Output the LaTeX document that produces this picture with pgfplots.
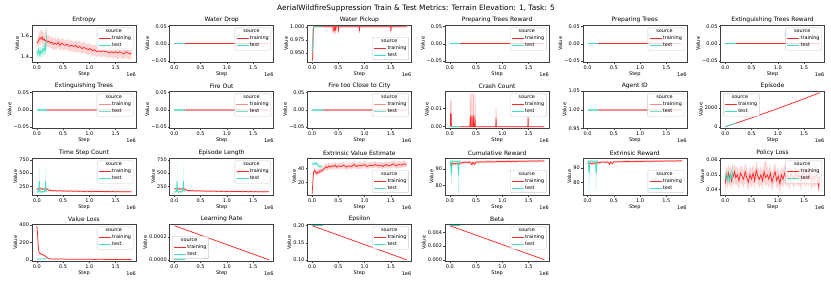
\documentclass[border=0pt]{standalone}
\usepackage{fontspec}
\setmainfont{DejaVu Sans}
\usepackage{pgfplots}
\usepackage{pgfplotstable}
\pgfplotsset{compat=1.18}
\usepgfplotslibrary{fillbetween}

\definecolor{trn}{RGB}{255,40,40}
\definecolor{tst}{RGB}{64,224,192}
\definecolor{trnP}{RGB}{245,140,140}
\definecolor{tstP}{RGB}{110,230,205}
\newcommand{\tickf}{\fontsize{5}{5.5}\selectfont}
\newcommand{\ttlf}{\fontsize{6}{6.5}\selectfont}
\newcommand{\legf}{\fontsize{4.9}{5.4}\selectfont}

\pgfplotsset{
 sub/.style={
  scale only axis, width=104pt, height=37.5pt, anchor=south west,
  xmin=-0.09, xmax=1.89,
  xtick={0,0.5,1,1.5}, xticklabels={0.0,0.5,1.0,1.5},
  scaled x ticks=false, scaled y ticks=false,
  xlabel={Step}, ylabel={Value},
  tick align=outside, xtick pos=bottom, ytick pos=left,
  major tick length=1.8pt,
  tick style={black!75, line width=0.4pt},
  axis line style={black!75, line width=0.5pt},
  ticklabel style={font=\tickf, inner sep=1pt},
  label style={font=\tickf},
  xlabel style={inner sep=0pt, yshift=-1pt},
  ylabel style={inner sep=0pt, yshift=1pt},
  every axis title/.style={at={(0.5,1)}, anchor=south, font=\ttlf, inner sep=0pt, yshift=2pt},
  /pgf/number format/assume math mode=true,
  legend style={font=\legf, draw=black!20, rounded corners=1pt, fill=white,
    fill opacity=0.8, text opacity=1, draw opacity=1, inner sep=1.3pt, row sep=0.3pt,
    nodes={inner sep=0.8pt}},
  legend cell align=left,
  legend image code/.code={\draw[##1] (0pt,0pt) -- (12pt,0pt);},
  extra description/.code={\node[anchor=east, inner sep=0pt, font=\tickf] at (1,0) [yshift=-12pt] {1e6};},
 },
 zero/.style={ymin=-0.055, ymax=0.055, ytick={-0.05,0,0.05}, yticklabels={−0.05,0.00,0.05}},
 legUR/.style={legend style={at={(0.975,0.93)}, anchor=north east}},
 legLR/.style={legend style={at={(0.975,0.07)}, anchor=south east}},
 legUL/.style={legend style={at={(0.025,0.93)}, anchor=north west}},
 legLL/.style={legend style={at={(0.025,0.07)}, anchor=south west}},
 trline/.style={color=trn, draw=trn, line width=0.75pt},
 teline/.style={color=tst, draw=tst, line width=0.75pt},
 trlineZ/.style={color=trn, draw=trn, line width=1.2pt},
 telineZ/.style={color=tst, draw=tst, line width=1.2pt},
 trlineP/.style={color=trnP, draw=trnP, line width=1.9pt},
 telineP/.style={color=tstP, draw=tstP, line width=1.9pt},
 trfill/.style={fill=trn, fill opacity=0.2, draw=none},
 tefill/.style={fill=tst, fill opacity=0.3, draw=none},
}

\newcommand{\leghead}{%
 \addlegendimage{empty legend}\addlegendentry{\hspace*{-6.5pt}source}
 \addlegendimage{color=trn, draw=trn, line width=0.9pt}\addlegendentry{training}
 \addlegendimage{color=tst, draw=tst, line width=0.9pt}\addlegendentry{test}}
\newcommand{\legheadP}{%
 \addlegendimage{empty legend}\addlegendentry{\hspace*{-6.5pt}source}
 \addlegendimage{color=trnP, draw=trnP, line width=1.2pt}\addlegendentry{training}
 \addlegendimage{color=tstP, draw=tstP, line width=1.2pt}\addlegendentry{test}}
\newcommand{\band}[3]{%
 \addplot[draw=none, name path=U#2, forget plot] table[x=x,y=hi]{#1};
 \addplot[draw=none, name path=L#2, forget plot] table[x=x,y=lo]{#1};
 \addplot[#3, forget plot] fill between[of=U#2 and L#2];}

% ---------------- data ----------------
\pgfplotstableread{
x m lo hi
0.00 1.53 1.50 1.56
0.02 1.54 1.50 1.58
0.04 1.56 1.51 1.62
0.06 1.58 1.53 1.64
0.08 1.57 1.50 1.66
0.10 1.59 1.54 1.65
0.12 1.56 1.50 1.63
0.14 1.57 1.52 1.61
0.16 1.55 1.49 1.64
0.18 1.56 1.50 1.68
0.20 1.54 1.49 1.60
0.23 1.55 1.50 1.61
0.26 1.53 1.48 1.58
0.29 1.54 1.49 1.60
0.32 1.52 1.46 1.57
0.35 1.53 1.48 1.59
0.38 1.52 1.47 1.56
0.41 1.54 1.49 1.59
0.44 1.51 1.46 1.56
0.47 1.53 1.48 1.57
0.50 1.52 1.46 1.58
0.54 1.51 1.47 1.55
0.58 1.52 1.47 1.57
0.62 1.50 1.45 1.55
0.66 1.51 1.46 1.56
0.70 1.50 1.45 1.54
0.74 1.51 1.45 1.56
0.78 1.49 1.44 1.54
0.82 1.50 1.45 1.55
0.86 1.48 1.43 1.53
0.90 1.49 1.44 1.55
0.94 1.48 1.43 1.52
0.98 1.47 1.42 1.53
1.02 1.48 1.43 1.52
1.06 1.46 1.41 1.51
1.10 1.47 1.42 1.52
1.14 1.45 1.40 1.50
1.18 1.46 1.41 1.51
1.22 1.45 1.40 1.50
1.26 1.46 1.41 1.50
1.30 1.45 1.40 1.50
1.34 1.45 1.40 1.49
1.38 1.44 1.39 1.49
1.42 1.45 1.40 1.50
1.46 1.44 1.39 1.48
1.50 1.45 1.40 1.49
1.54 1.44 1.38 1.49
1.58 1.45 1.40 1.50
1.62 1.44 1.39 1.48
1.66 1.43 1.38 1.48
1.70 1.45 1.40 1.49
1.74 1.44 1.38 1.48
1.78 1.43 1.38 1.47
1.80 1.44 1.39 1.48
}\TEnt
\pgfplotstableread{
x m lo hi
0.00 1.45 1.41 1.49
0.02 1.43 1.39 1.47
0.04 1.47 1.42 1.52
0.06 1.42 1.38 1.46
0.08 1.46 1.41 1.51
0.10 1.44 1.40 1.48
0.12 1.48 1.43 1.53
0.14 1.46 1.41 1.52
0.16 1.50 1.44 1.56
0.17 1.47 1.42 1.53
0.18 1.57 1.50 1.68
0.19 1.60 1.53 1.68
}\TEntT
\pgfplotstableread{
x m lo
0.000 0.936 0.932
0.010 0.940 0.935
0.020 0.990 0.975
0.030 1.000 1.000
0.395 1.000 1.000
0.400 0.991 0.987
0.405 1.000 1.000
0.425 1.000 1.000
0.430 0.991 0.987
0.435 1.000 1.000
0.445 1.000 1.000
0.450 0.993 0.988
0.455 1.000 1.000
0.495 1.000 1.000
0.500 0.991 0.987
0.505 1.000 1.000
0.895 1.000 1.000
0.900 0.992 0.988
0.905 1.000 1.000
1.495 1.000 1.000
1.500 0.992 0.988
1.505 1.000 1.000
1.800 1.000 1.000
}\TWP
\pgfplotstableread{
x m hi
0.000 0 0
0.010 0 0
0.015 0.007 0.014
0.025 0.007 0.014
0.030 0 0
0.385 0 0
0.390 0.006 0.0183
0.395 0 0
0.415 0 0
0.420 0.006 0.0183
0.425 0 0
0.445 0 0
0.450 0.006 0.018
0.455 0 0
0.475 0 0
0.480 0.005 0.0175
0.485 0 0
0.875 0 0
0.880 0.0046 0.0105
0.885 0 0
1.485 0 0
1.490 0.005 0.006
1.495 0 0
1.800 0 0
}\TCrash
\pgfplotstableread{
x m lo hi
0.00 200 180 220
0.02 205 180 230
0.04 195 175 215
0.06 210 185 235
0.08 200 180 225
0.10 205 180 230
0.12 195 170 220
0.14 200 178 225
0.16 210 185 240
0.18 195 175 215
0.20 200 180 225
0.22 185 165 205
0.25 170 155 185
0.28 175 158 190
0.31 165 150 180
0.35 170 155 185
0.40 162 148 178
0.45 168 152 182
0.50 160 146 175
0.55 165 150 180
0.60 158 145 172
0.65 163 148 178
0.70 157 143 170
0.75 162 147 176
0.80 155 142 168
0.85 160 146 174
0.90 154 141 168
0.95 158 144 172
1.00 153 140 166
1.05 157 143 171
1.10 152 139 165
1.15 156 142 170
1.20 151 138 164
1.25 155 141 168
1.30 150 137 163
1.35 154 140 167
1.40 149 136 162
1.45 153 139 166
1.50 148 135 161
1.55 152 138 165
1.60 147 134 160
1.65 151 137 164
1.70 146 133 159
1.75 150 136 163
1.80 147 134 160
}\TTS
\pgfplotstableread{
x m lo hi
0.00 150 130 170
0.02 145 125 165
0.04 160 130 200
0.05 350 150 750
0.06 160 130 200
0.08 140 120 160
0.10 155 130 180
0.12 145 125 165
0.14 150 128 172
0.16 170 140 210
0.17 350 150 730
0.18 165 135 200
0.20 150 128 172
}\TTST
\pgfplotstableread{
x m lo hi
0.00 3 1 5
0.01 15 10 20
0.02 28 24 32
0.03 35 31 39
0.05 37 33 41
0.07 34 30 38
0.09 33 29 37
0.11 35 31 39
0.13 34 30 39
0.15 37 33 41
0.17 36 32 40
0.20 38 34 42
0.23 40 36 45
0.26 43 38 48
0.29 41 37 46
0.32 44 39 49
0.35 42 38 46
0.38 44 40 49
0.41 43 38 47
0.44 45 40 50
0.47 42 38 46
0.50 44 40 49
0.55 43 39 47
0.60 45 40 50
0.65 42 38 46
0.70 44 40 49
0.75 43 39 48
0.80 46 41 51
0.85 43 39 47
0.90 45 40 50
0.95 44 40 48
1.00 46 41 51
1.05 43 39 48
1.10 45 41 50
1.15 44 40 49
1.20 46 41 51
1.25 44 40 48
1.30 45 41 50
1.35 43 39 48
1.40 46 41 51
1.45 44 40 49
1.50 45 41 50
1.55 47 42 52
1.60 44 40 49
1.65 46 41 51
1.70 45 41 50
1.75 47 42 52
1.80 46 42 50
}\TEVE
\pgfplotstableread{
x m lo hi
0.00 47 45 49
0.02 46 44 48
0.04 48 46 50
0.06 47 45 50
0.08 48 46 51
0.10 46 44 49
0.12 44 42 47
0.14 43 41 46
0.15 42 40 45
0.17 43 41 46
0.19 44 42 46
}\TEVET
\pgfplotstableread{
x m lo hi
0.00 93.0 92.0 94.0
0.02 93.2 92.0 94.2
0.03 91.5 90.0 93.5
0.04 93.0 92.0 94.0
0.06 93.3 92.3 94.3
0.08 92.8 91.8 93.8
0.10 93.2 92.2 94.2
0.13 93.0 92.0 94.0
0.16 93.4 92.4 94.4
0.19 93.2 92.2 94.2
0.22 93.6 92.7 94.5
0.26 93.8 93.0 94.6
0.30 94.0 93.2 94.8
0.34 93.8 93.0 94.6
0.38 94.1 93.3 94.9
0.42 92.5 91.0 94.0
0.44 94.0 93.2 94.8
0.47 92.8 91.5 94.2
0.50 94.1 93.3 94.9
0.55 94.0 93.2 94.8
0.60 94.2 93.5 95.0
0.65 94.1 93.4 94.9
0.70 94.3 93.6 95.0
0.75 94.2 93.5 95.0
0.80 94.3 93.6 95.0
0.85 94.1 93.4 94.9
0.90 94.4 93.7 95.1
0.95 94.3 93.6 95.0
1.00 94.4 93.7 95.1
1.05 94.3 93.6 95.0
1.10 94.5 93.8 95.2
1.15 94.4 93.7 95.1
1.20 94.5 93.8 95.2
1.25 94.4 93.7 95.1
1.30 94.6 93.9 95.3
1.35 94.5 93.8 95.2
1.40 94.6 93.9 95.3
1.45 94.5 93.8 95.2
1.50 94.7 94.0 95.4
1.55 94.6 93.9 95.3
1.60 94.7 94.0 95.4
1.65 94.6 93.9 95.3
1.70 94.8 94.1 95.5
1.75 94.7 94.0 95.4
1.80 94.8 94.2 95.4
}\TCum
\pgfplotstableread{
x m lo hi
0.000 94.5 94.0 95.0
0.015 94.5 93.8 95.2
0.025 88.0 80.0 95.0
0.035 87.0 80.0 95.0
0.045 94.5 93.8 95.2
0.080 94.6 94.0 95.2
0.110 94.4 93.8 95.0
0.140 94.5 93.8 95.2
0.155 94.5 93.8 95.2
0.160 86.0 75.0 95.0
0.170 88.0 75.0 95.0
0.180 94.5 93.8 95.2
0.200 94.6 94.0 95.2
}\TCumT
\pgfplotstableread{
x m lo hi
0.000 94.5 94.0 95.0
0.015 94.5 93.8 95.2
0.025 88.0 72.0 95.0
0.035 87.0 72.0 95.0
0.045 94.5 93.8 95.2
0.080 94.6 94.0 95.2
0.110 94.4 93.8 95.0
0.140 94.5 93.8 95.2
0.155 94.5 93.8 95.2
0.160 86.0 75.0 95.0
0.170 88.0 75.0 95.0
0.180 94.5 93.8 95.2
0.200 94.6 94.0 95.2
}\TExtT
\pgfplotstableread{
x m lo hi
0.00 0.044 0.038 0.050
0.02 0.050 0.044 0.056
0.04 0.047 0.040 0.053
0.06 0.051 0.045 0.057
0.08 0.048 0.042 0.054
0.10 0.050 0.044 0.056
0.12 0.046 0.040 0.052
0.14 0.051 0.045 0.057
0.16 0.049 0.043 0.055
0.18 0.052 0.046 0.058
0.20 0.048 0.042 0.054
0.23 0.050 0.044 0.056
0.26 0.046 0.040 0.052
0.29 0.051 0.045 0.057
0.32 0.049 0.043 0.055
0.35 0.047 0.041 0.053
0.38 0.052 0.046 0.058
0.41 0.048 0.042 0.054
0.44 0.045 0.039 0.051
0.47 0.050 0.044 0.056
0.50 0.047 0.041 0.053
0.53 0.051 0.045 0.057
0.56 0.046 0.040 0.052
0.59 0.053 0.047 0.059
0.62 0.049 0.043 0.055
0.65 0.047 0.041 0.053
0.68 0.050 0.044 0.056
0.71 0.046 0.040 0.052
0.74 0.052 0.046 0.058
0.77 0.048 0.042 0.060
0.80 0.050 0.044 0.056
0.83 0.047 0.041 0.053
0.86 0.051 0.045 0.057
0.89 0.045 0.039 0.051
0.92 0.049 0.043 0.055
0.95 0.052 0.046 0.058
0.98 0.046 0.040 0.052
1.01 0.049 0.043 0.055
1.04 0.044 0.038 0.050
1.07 0.050 0.044 0.056
1.10 0.047 0.041 0.053
1.13 0.051 0.045 0.057
1.16 0.048 0.042 0.054
1.19 0.050 0.044 0.056
1.22 0.046 0.040 0.052
1.25 0.051 0.045 0.057
1.28 0.049 0.043 0.055
1.31 0.047 0.041 0.053
1.34 0.052 0.046 0.058
1.37 0.048 0.042 0.054
1.40 0.050 0.044 0.056
1.43 0.046 0.040 0.052
1.46 0.049 0.043 0.055
1.49 0.051 0.045 0.057
1.52 0.047 0.041 0.053
1.55 0.050 0.044 0.056
1.58 0.048 0.042 0.054
1.61 0.051 0.045 0.057
1.64 0.046 0.040 0.052
1.67 0.049 0.043 0.055
1.70 0.047 0.041 0.053
1.73 0.050 0.044 0.056
1.76 0.048 0.042 0.054
1.78 0.042 0.037 0.050
1.80 0.049 0.043 0.055
}\TPol
\pgfplotstableread{
x m lo hi
0.00 0.048 0.045 0.051
0.02 0.050 0.046 0.054
0.04 0.047 0.044 0.050
0.06 0.049 0.045 0.053
0.08 0.046 0.043 0.049
0.10 0.050 0.046 0.054
0.12 0.048 0.044 0.052
0.14 0.051 0.047 0.058
0.15 0.049 0.046 0.053
}\TPolT
\pgfplotstableread{
x m lo hi
0.00 390 380 400
0.01 350 330 370
0.02 250 230 270
0.03 150 135 165
0.04 100 90 115
0.05 80 70 90
0.07 70 60 80
0.09 65 55 75
0.11 60 50 70
0.13 55 47 65
0.15 50 42 60
0.17 40 33 48
0.20 25 20 30
0.23 15 11 20
0.26 12 8 16
0.30 10 7 14
0.35 12 8 16
0.40 9 6 13
0.50 10 7 14
0.60 8 5 11
0.70 9 6 12
0.80 7 4 10
0.90 8 5 11
1.00 7 4 10
1.10 6 4 9
1.20 7 4 10
1.30 6 3 9
1.40 5 3 8
1.50 6 3 9
1.60 5 3 8
1.70 5 2 8
1.80 4 2 7
}\TVL
\pgfplotstableread{
x m lo hi
0.00 10 7 13
0.05 12 8 16
0.10 11 8 14
0.15 13 9 17
0.20 12 8 15
}\TVLT

\begin{document}
\begin{tikzpicture}
\node[font=\fontsize{7.4}{8}\selectfont] at (416pt,275pt) {AerialWildfireSuppression Train \& Test Metrics: Terrain Elevation: 1, Task: 5};

% ---------- Row 1 ----------
\begin{axis}[sub, legUR, at={(32pt,220.5pt)}, title={Entropy},
  ymin=1.35, ymax=1.70, ytick={1.4,1.6}, yticklabels={1.4,1.6}]
\leghead
\band{\TEnt}{a}{trfill}
\addplot[trline, forget plot] table[x=x,y=m]{\TEnt};
\band{\TEntT}{b}{tefill}
\addplot[teline, forget plot] table[x=x,y=m]{\TEntT};
\end{axis}

\begin{axis}[sub, zero, legUR, at={(169.7pt,220.5pt)}, title={Water Drop}]
\leghead
\addplot[trlineZ, forget plot] coordinates {(0,0) (0.6,0) (1.2,0) (1.8,0)};
\addplot[telineZ, forget plot] coordinates {(0,0) (0.1,0) (0.2,0)};
\end{axis}

\begin{axis}[sub, legLR, at={(307.4pt,220.5pt)}, title={Water Pickup},
  ymin=0.932, ymax=1.0033, ytick={0.95,0.975,1}, yticklabels={0.950,0.975,1.000}]
\leghead
\addplot[draw=trn!30, line width=0.75pt, forget plot] table[x=x,y=lo]{\TWP};
\addplot[trline, forget plot] table[x=x,y=m]{\TWP};
\addplot[teline, forget plot] coordinates {(0,0.95) (0.02,1.0) (0.2,1.0)};
\end{axis}

\begin{axis}[sub, zero, legUR, at={(445.1pt,220.5pt)}, title={Preparing Trees Reward}]
\leghead
\addplot[trlineZ, forget plot] coordinates {(0,0) (0.6,0) (1.2,0) (1.8,0)};
\addplot[telineZ, forget plot] coordinates {(0,0) (0.1,0) (0.2,0)};
\end{axis}

\begin{axis}[sub, zero, legUR, at={(582.8pt,220.5pt)}, title={Preparing Trees}]
\leghead
\addplot[trlineZ, forget plot] coordinates {(0,0) (0.6,0) (1.2,0) (1.8,0)};
\addplot[telineZ, forget plot] coordinates {(0,0) (0.1,0) (0.2,0)};
\end{axis}

\begin{axis}[sub, zero, legUR, at={(720.5pt,220.5pt)}, title={Extinguishing Trees Reward}]
\leghead
\addplot[trlineZ, forget plot] coordinates {(0,0) (0.6,0) (1.2,0) (1.8,0)};
\addplot[telineZ, forget plot] coordinates {(0,0) (0.1,0) (0.2,0)};
\end{axis}

% ---------- Row 2 ----------
\begin{axis}[sub, zero, legUR, at={(32pt,154.5pt)}, title={Extinguishing Trees}]
\legheadP
\addplot[trlineP, forget plot] coordinates {(0,0) (0.6,0) (1.2,0) (1.8,0)};
\addplot[telineP, forget plot] coordinates {(0,0) (0.1,0) (0.2,0)};
\end{axis}

\begin{axis}[sub, zero, legUR, at={(169.7pt,154.5pt)}, title={Fire Out}]
\legheadP
\addplot[trlineP, forget plot] coordinates {(0,0) (0.6,0) (1.2,0) (1.8,0)};
\addplot[telineP, forget plot] coordinates {(0,0) (0.1,0) (0.2,0)};
\end{axis}

\begin{axis}[sub, zero, legUR, at={(307.4pt,154.5pt)}, title={Fire too Close to City}]
\legheadP
\addplot[trlineP, forget plot] coordinates {(0,0) (0.6,0) (1.2,0) (1.8,0)};
\addplot[telineP, forget plot] coordinates {(0,0) (0.1,0) (0.2,0)};
\end{axis}

\begin{axis}[sub, legUR, at={(445.1pt,154.5pt)}, title={Crash Count},
  ymin=-0.001, ymax=0.0195, ytick={0,0.01}, yticklabels={0.00,0.01}]
\leghead
\addplot[draw=trn!30, line width=0.75pt, forget plot] table[x=x,y=hi]{\TCrash};
\addplot[trline, forget plot] table[x=x,y=m]{\TCrash};
\addplot[telineZ, forget plot] coordinates {(0,0) (0.2,0)};
\end{axis}

\begin{axis}[sub, legUR, at={(582.8pt,154.5pt)}, title={Agent ID},
  ymin=0.95, ymax=1.05, ytick={0.95,1,1.05}, yticklabels={0.95,1.00,1.05}]
\legheadP
\addplot[trlineP, forget plot] coordinates {(0,1) (0.6,1) (1.2,1) (1.8,1)};
\addplot[telineP, forget plot] coordinates {(0,1) (0.1,1) (0.2,1)};
\end{axis}

\begin{axis}[sub, legUL, at={(720.5pt,154.5pt)}, title={Episode},
  ymin=-183, ymax=3833, ytick={0,2000}, yticklabels={0,2000}]
\leghead
\addplot[trline, forget plot] coordinates {(0,0) (0.2,380) (0.5,950) (1.0,1950) (1.5,3000) (1.8,3650)};
\addplot[teline, forget plot] coordinates {(0,0) (0.1,190) (0.2,400)};
\end{axis}

% ---------- Row 3 ----------
\begin{axis}[sub, legUR, at={(32pt,87.5pt)}, title={Time Step Count},
  ymin=78, ymax=785, ytick={250,500,750}, yticklabels={250,500,750}]
\leghead
\band{\TTS}{e}{trfill}
\addplot[trline, forget plot] table[x=x,y=m]{\TTS};
\band{\TTST}{f}{tefill}
\addplot[teline, forget plot] table[x=x,y=m]{\TTST};
\end{axis}

\begin{axis}[sub, legUR, at={(169.7pt,87.5pt)}, title={Episode Length},
  ymin=78, ymax=785, ytick={250,500,750}, yticklabels={250,500,750}]
\leghead
\band{\TTS}{g}{trfill}
\addplot[trline, forget plot] table[x=x,y=m]{\TTS};
\band{\TTST}{h}{tefill}
\addplot[teline, forget plot] table[x=x,y=m]{\TTST};
\end{axis}

\begin{axis}[sub, legLR, at={(307.4pt,87.5pt)}, title={Extrinsic Value Estimate},
  ymin=0.5, ymax=55.5, ytick={20,40}, yticklabels={20,40}]
\leghead
\band{\TEVE}{i}{trfill}
\addplot[trline, forget plot] table[x=x,y=m]{\TEVE};
\band{\TEVET}{j}{tefill}
\addplot[teline, forget plot] table[x=x,y=m]{\TEVET};
\end{axis}

\begin{axis}[sub, legLR, at={(445.1pt,87.5pt)}, title={Cumulative Reward},
  ymin=74, ymax=96.5, ytick={80,90}, yticklabels={80,90}]
\leghead
\band{\TCum}{k}{trfill}
\addplot[trline, forget plot] table[x=x,y=m]{\TCum};
\band{\TCumT}{l}{tefill}
\addplot[teline, forget plot] table[x=x,y=m]{\TCumT};
\end{axis}

\begin{axis}[sub, legLR, at={(582.8pt,87.5pt)}, title={Extrinsic Reward},
  ymin=71, ymax=96.7, ytick={80,90}, yticklabels={80,90}]
\leghead
\band{\TCum}{m}{trfill}
\addplot[trline, forget plot] table[x=x,y=m]{\TCum};
\band{\TExtT}{n}{tefill}
\addplot[teline, forget plot] table[x=x,y=m]{\TExtT};
\end{axis}

\begin{axis}[sub, legUR, at={(720.5pt,87.5pt)}, title={Policy Loss},
  ymin=0.036, ymax=0.0613, ytick={0.04,0.05,0.06}, yticklabels={0.04,0.05,0.06}]
\leghead
\band{\TPol}{o}{trfill}
\addplot[trline, forget plot] table[x=x,y=m]{\TPol};
\band{\TPolT}{p}{tefill}
\addplot[teline, forget plot] table[x=x,y=m]{\TPolT};
\end{axis}

% ---------- Row 4 ----------
\begin{axis}[sub, legUR, at={(32pt,21.5pt)}, title={Value Loss},
  ymin=-18, ymax=412, ytick={0,200,400}, yticklabels={0,200,400}]
\leghead
\band{\TVL}{q}{trfill}
\addplot[trline, forget plot] table[x=x,y=m]{\TVL};
\band{\TVLT}{r}{tefill}
\addplot[teline, forget plot] table[x=x,y=m]{\TVLT};
\end{axis}

\begin{axis}[sub, legLL, at={(169.7pt,21.5pt)}, title={Learning Rate},
  ymin=-0.000015, ymax=0.000315, ytick={0,0.0002}, yticklabels={0.0000,0.0002}]
\leghead
\addplot[trline, forget plot] coordinates {(0,0.0003) (1.8,0.0000)};
\addplot[telineZ, forget plot] coordinates {(0,0) (0.2,0)};
\end{axis}

\begin{axis}[sub, legUR, at={(307.4pt,21.5pt)}, title={Epsilon},
  ymin=0.095, ymax=0.205, ytick={0.1,0.15,0.2}, yticklabels={0.10,0.15,0.20}]
\leghead
\addplot[trline, forget plot] coordinates {(0,0.2) (1.8,0.1)};
\addplot[telineZ, forget plot] coordinates {(0,0.2) (0.2,0.2)};
\end{axis}

\begin{axis}[sub, legUR, at={(445.1pt,21.5pt)}, title={Beta},
  ymin=-0.00025, ymax=0.00525, ytick={0,0.002,0.004}, yticklabels={0.000,0.002,0.004}]
\leghead
\addplot[trline, forget plot] coordinates {(0,0.005) (1.8,0.00001)};
\addplot[telineZ, forget plot] coordinates {(0,0.005) (0.2,0.005)};
\end{axis}

\pgfresetboundingbox
\path[use as bounding box] (0,0) rectangle (831pt,283pt);
\end{tikzpicture}
\end{document}
